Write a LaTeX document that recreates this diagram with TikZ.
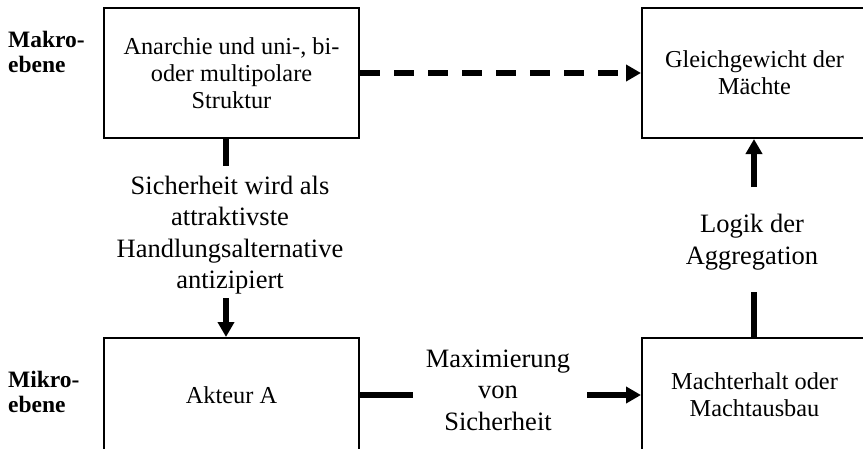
\documentclass[tikz,border=0pt]{standalone}
\usepackage{fontspec}
\setmainfont{Liberation Serif}
\usetikzlibrary{arrows.meta}
\tikzset{
 box/.style={draw, line width=2pt, inner sep=0pt, align=center, font=\fontsize{24.3}{27}\selectfont},
 lab/.style={inner sep=0pt, align=center, font=\fontsize{26.5}{31.5}\selectfont},
 lvl/.style={inner sep=0pt, align=left, anchor=west, font=\bfseries\fontsize{23.5}{25}\selectfont},
 conn/.style={line width=5.5pt},
 tip/.style={-{Triangle[width=16pt,length=15pt]}},
}
\begin{document}
\begin{tikzpicture}[x=1pt,y=-1pt]
\useasboundingbox (0,0) rectangle (863,448);
\clip (0,0) rectangle (863,448);
\node[box, minimum width=255pt, minimum height=130pt] (b1) at (231.5,73) {Anarchie und uni-, bi-\\oder multipolare\\Struktur};
\node[box, minimum width=225pt, minimum height=130pt] (b2) at (754.5,73) {Gleichgewicht der\\Mächte};
\node[box, minimum width=255pt, minimum height=114pt] (b3) at (231.5,395) {Akteur A};
\node[box, minimum width=225pt, minimum height=114pt] (b4) at (754.5,395) {Machterhalt oder\\Machtausbau};
\node[lab] (l1) at (230,235) {Sicherheit wird als\\attraktivste\\Handlungsalternative\\antizipiert};
\node[lab] (l2) at (752,242) {Logik der\\Aggregation};
\node[lab] (l3) at (498,390) {Maximierung\\von\\Sicherheit};
\node[lvl] (m1) at (8,52) {Makro-\\ebene};
\node[lvl] (m2) at (8,392) {Mikro-\\ebene};
\coordinate (p1) at (226,166);
\coordinate (p2) at (226,298);
\coordinate (q1) at (754,187);
\coordinate (q2) at (754,292);
\coordinate (r1) at (413,395);
\coordinate (r2) at (587,395);
\draw[conn] (b1.south -| p1) -- (p1);
\draw[conn,tip] (p2) -- (b3.north -| p2);
\draw[conn,tip] (q1) -- (b2.south -| q1);
\draw[conn] (q2) -- (b4.north -| q2);
\draw[conn] (b3.east |- r1) -- (r1);
\draw[conn,tip] (r2) -- (b4.west |- r2);
\draw[line width=6pt, dash pattern=on 20pt off 14pt, tip] (b1.east) -- (b2.west);
\end{tikzpicture}
\end{document}
